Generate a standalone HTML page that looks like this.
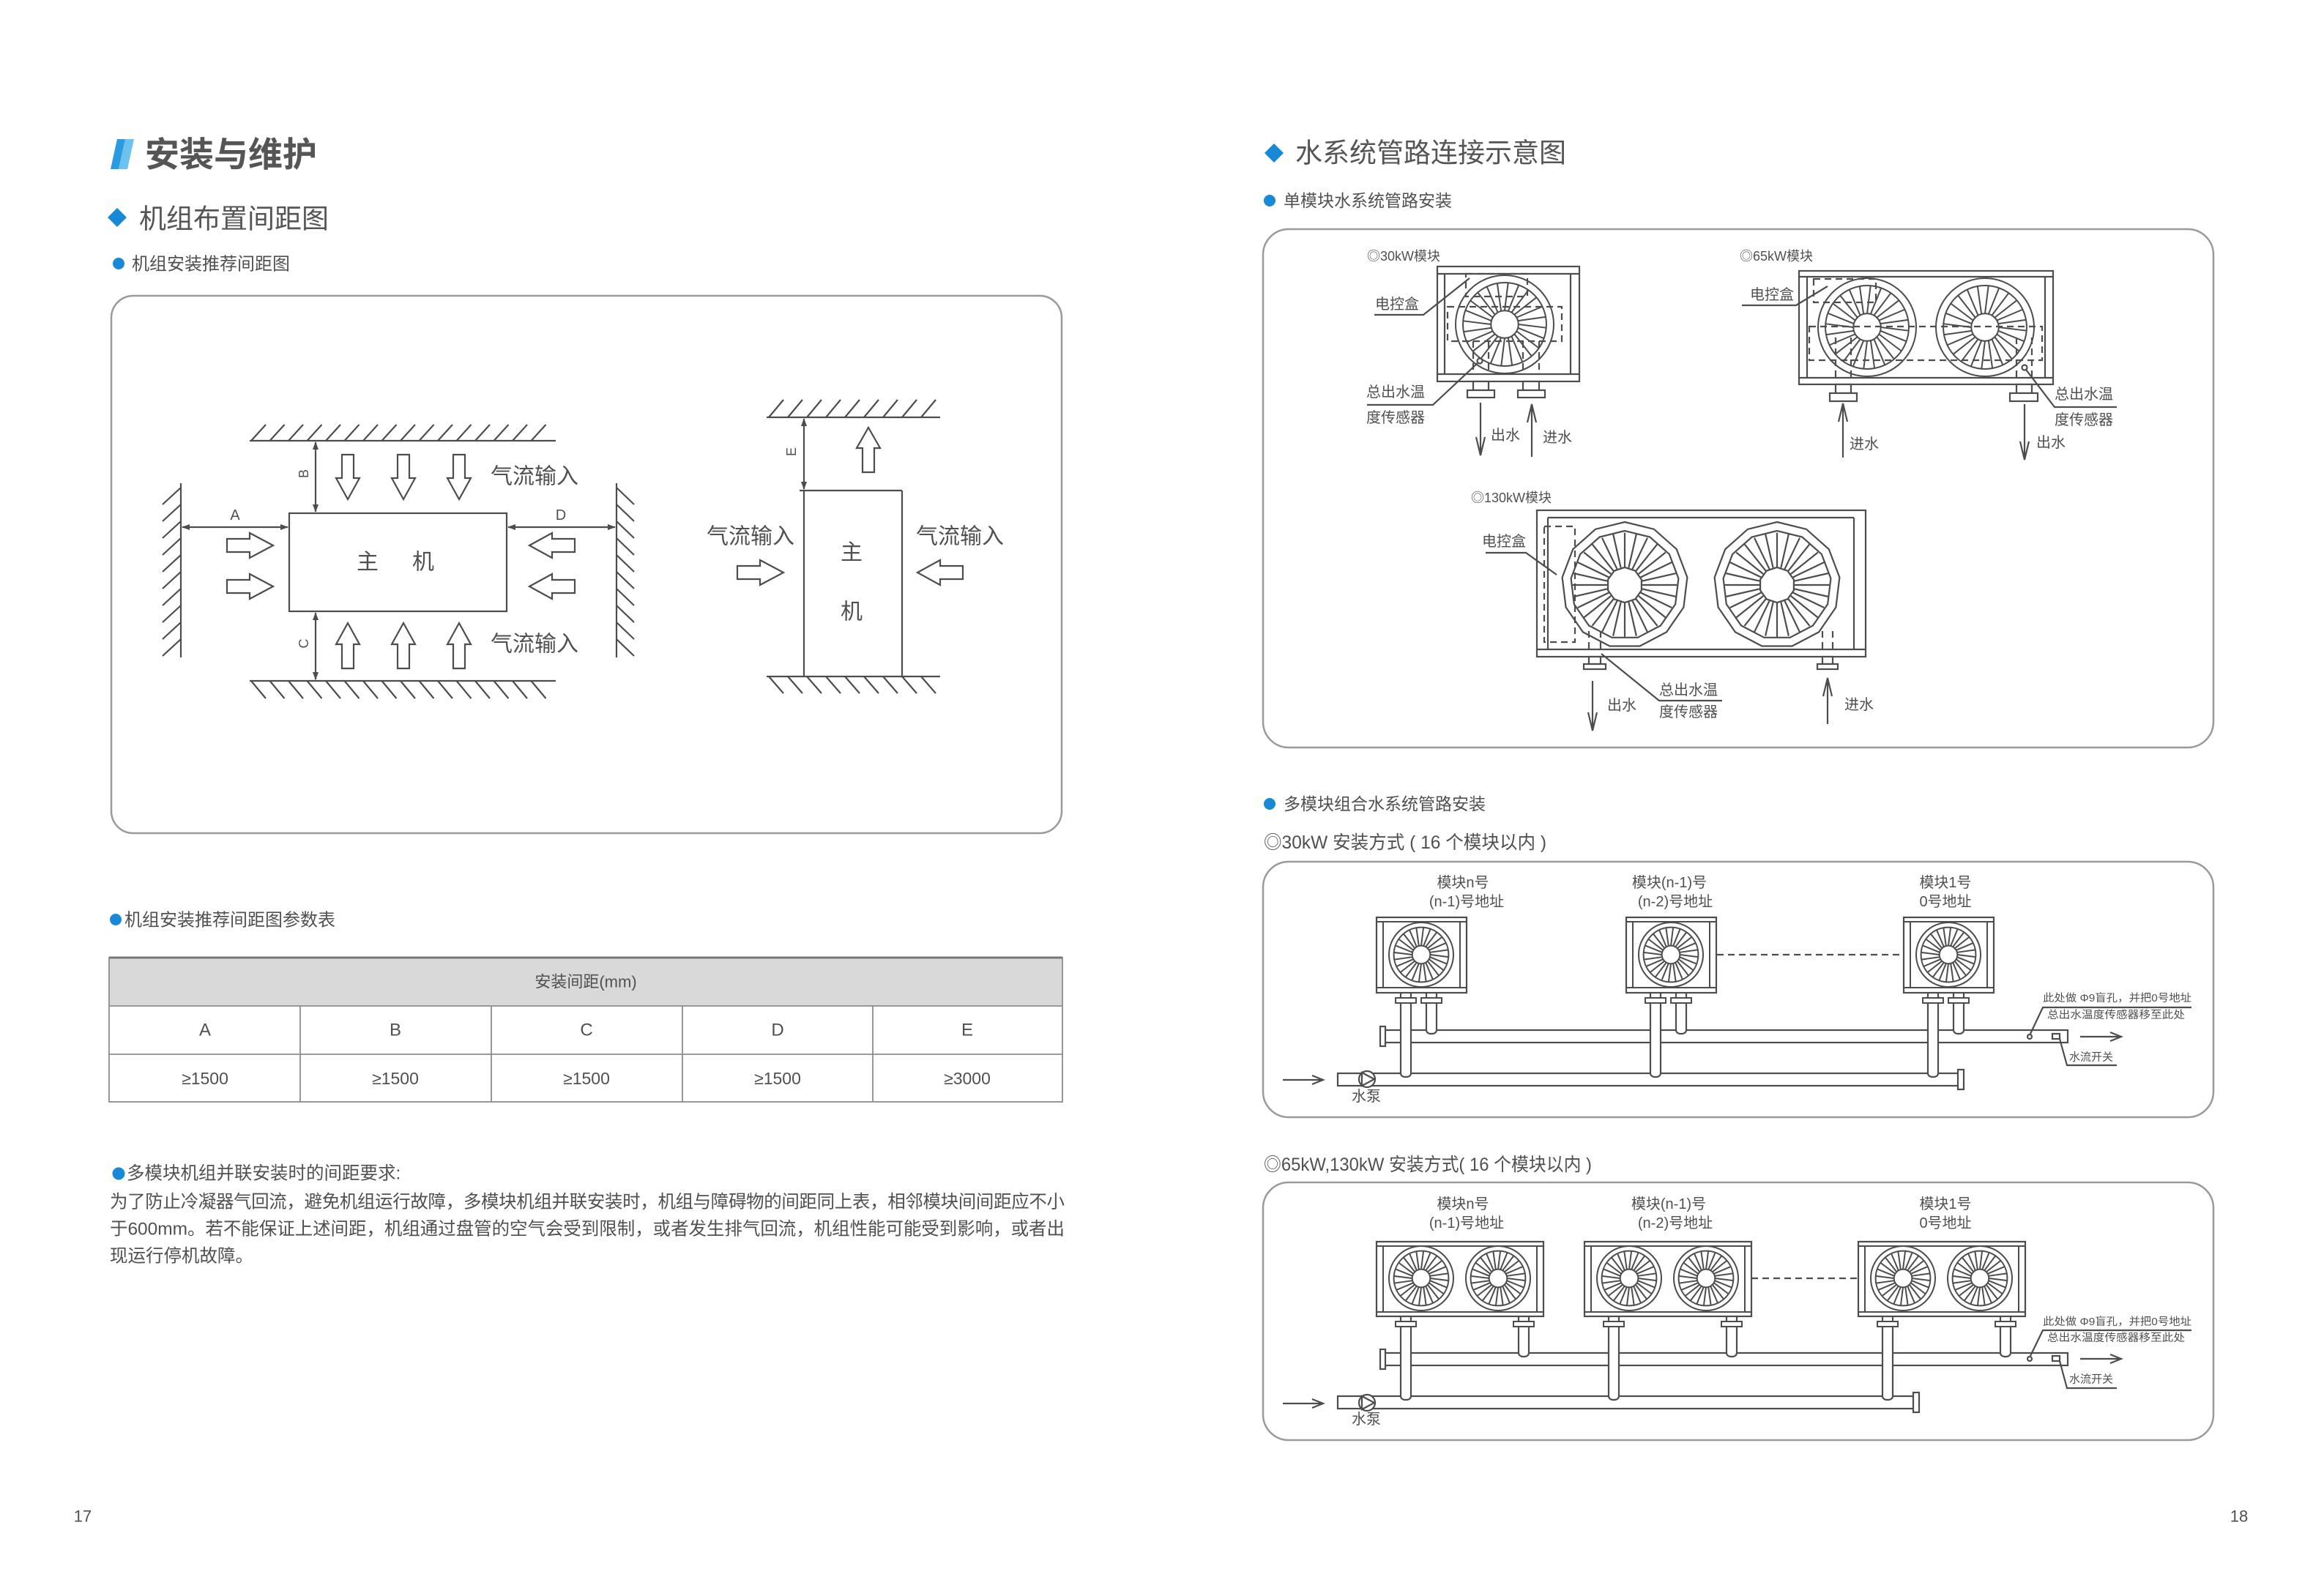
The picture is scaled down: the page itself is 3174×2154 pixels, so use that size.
<!DOCTYPE html>
<html><head><meta charset="utf-8"><style>
html,body{margin:0;padding:0;background:#fff;}
svg{display:block;}
text{font-family:"Liberation Sans","Noto Sans CJK SC",sans-serif;fill:#505050;dominant-baseline:central;}
.ln{stroke:#4d4d4d;stroke-width:2.2;fill:none;}
.lw{stroke:#4d4d4d;stroke-width:2.2;fill:#fff;}
.ds{stroke-dasharray:9 6;}
.bx{stroke:#9a9a9a;stroke-width:2.5;fill:none;}
</style></head><body>
<svg width="3174" height="2154" viewBox="0 0 3174 2154" xmlns="http://www.w3.org/2000/svg">
<defs>
<g id="fan" stroke="#4d4d4d" stroke-width="2" fill="none">
<circle r="1" vector-effect="non-scaling-stroke"/>
<circle r="0.85" vector-effect="non-scaling-stroke"/>
<circle r="0.28" fill="#fff" vector-effect="non-scaling-stroke"/>
<line x1="0" y1="-.28" x2=".07" y2="-.845" transform="rotate(0)" vector-effect="non-scaling-stroke"/>
<line x1="0" y1="-.28" x2=".07" y2="-.845" transform="rotate(15)" vector-effect="non-scaling-stroke"/>
<line x1="0" y1="-.28" x2=".07" y2="-.845" transform="rotate(30)" vector-effect="non-scaling-stroke"/>
<line x1="0" y1="-.28" x2=".07" y2="-.845" transform="rotate(45)" vector-effect="non-scaling-stroke"/>
<line x1="0" y1="-.28" x2=".07" y2="-.845" transform="rotate(60)" vector-effect="non-scaling-stroke"/>
<line x1="0" y1="-.28" x2=".07" y2="-.845" transform="rotate(75)" vector-effect="non-scaling-stroke"/>
<line x1="0" y1="-.28" x2=".07" y2="-.845" transform="rotate(90)" vector-effect="non-scaling-stroke"/>
<line x1="0" y1="-.28" x2=".07" y2="-.845" transform="rotate(105)" vector-effect="non-scaling-stroke"/>
<line x1="0" y1="-.28" x2=".07" y2="-.845" transform="rotate(120)" vector-effect="non-scaling-stroke"/>
<line x1="0" y1="-.28" x2=".07" y2="-.845" transform="rotate(135)" vector-effect="non-scaling-stroke"/>
<line x1="0" y1="-.28" x2=".07" y2="-.845" transform="rotate(150)" vector-effect="non-scaling-stroke"/>
<line x1="0" y1="-.28" x2=".07" y2="-.845" transform="rotate(165)" vector-effect="non-scaling-stroke"/>
<line x1="0" y1="-.28" x2=".07" y2="-.845" transform="rotate(180)" vector-effect="non-scaling-stroke"/>
<line x1="0" y1="-.28" x2=".07" y2="-.845" transform="rotate(195)" vector-effect="non-scaling-stroke"/>
<line x1="0" y1="-.28" x2=".07" y2="-.845" transform="rotate(210)" vector-effect="non-scaling-stroke"/>
<line x1="0" y1="-.28" x2=".07" y2="-.845" transform="rotate(225)" vector-effect="non-scaling-stroke"/>
<line x1="0" y1="-.28" x2=".07" y2="-.845" transform="rotate(240)" vector-effect="non-scaling-stroke"/>
<line x1="0" y1="-.28" x2=".07" y2="-.845" transform="rotate(255)" vector-effect="non-scaling-stroke"/>
<line x1="0" y1="-.28" x2=".07" y2="-.845" transform="rotate(270)" vector-effect="non-scaling-stroke"/>
<line x1="0" y1="-.28" x2=".07" y2="-.845" transform="rotate(285)" vector-effect="non-scaling-stroke"/>
<line x1="0" y1="-.28" x2=".07" y2="-.845" transform="rotate(300)" vector-effect="non-scaling-stroke"/>
<line x1="0" y1="-.28" x2=".07" y2="-.845" transform="rotate(315)" vector-effect="non-scaling-stroke"/>
<line x1="0" y1="-.28" x2=".07" y2="-.845" transform="rotate(330)" vector-effect="non-scaling-stroke"/>
<line x1="0" y1="-.28" x2=".07" y2="-.845" transform="rotate(345)" vector-effect="non-scaling-stroke"/>
</g>
<g id="fanp" stroke="#4d4d4d" stroke-width="2.2" fill="none">
<polygon points="0,-1 .4647,-.8855 .823,-.5681 .9927,-.1205 .935,.3546 .6631,.7485 .2393,.9709 -.2393,.9709 -.6631,.7485 -.935,.3546 -.9927,-.1205 -.823,-.5681 -.4647,-.8855" vector-effect="non-scaling-stroke"/>
<polygon points="0,-.86 .3996,-.7615 .7078,-.4886 .8537,-.1036 .8041,.305 .5703,.6437 .2058,.835 -.2058,.835 -.5703,.6437 -.8041,.305 -.8537,-.1036 -.7078,-.4886 -.3996,-.7615" vector-effect="non-scaling-stroke"/>
<polygon points="0,-.28 .1646,-.2265 .2663,-.0865 .2663,.0865 .1646,.2265 0,.28 -.1646,.2265 -.2663,.0865 -.2663,-.0865 -.1646,-.2265" vector-effect="non-scaling-stroke"/>
<line x1="0" y1="-.28" x2="0" y2="-.83" transform="rotate(0)" vector-effect="non-scaling-stroke"/>
<line x1="0" y1="-.28" x2="0" y2="-.83" transform="rotate(12.857)" vector-effect="non-scaling-stroke"/>
<line x1="0" y1="-.28" x2="0" y2="-.83" transform="rotate(25.714)" vector-effect="non-scaling-stroke"/>
<line x1="0" y1="-.28" x2="0" y2="-.83" transform="rotate(38.571)" vector-effect="non-scaling-stroke"/>
<line x1="0" y1="-.28" x2="0" y2="-.83" transform="rotate(51.429)" vector-effect="non-scaling-stroke"/>
<line x1="0" y1="-.28" x2="0" y2="-.83" transform="rotate(64.286)" vector-effect="non-scaling-stroke"/>
<line x1="0" y1="-.28" x2="0" y2="-.83" transform="rotate(77.143)" vector-effect="non-scaling-stroke"/>
<line x1="0" y1="-.28" x2="0" y2="-.83" transform="rotate(90)" vector-effect="non-scaling-stroke"/>
<line x1="0" y1="-.28" x2="0" y2="-.83" transform="rotate(102.857)" vector-effect="non-scaling-stroke"/>
<line x1="0" y1="-.28" x2="0" y2="-.83" transform="rotate(115.714)" vector-effect="non-scaling-stroke"/>
<line x1="0" y1="-.28" x2="0" y2="-.83" transform="rotate(128.571)" vector-effect="non-scaling-stroke"/>
<line x1="0" y1="-.28" x2="0" y2="-.83" transform="rotate(141.429)" vector-effect="non-scaling-stroke"/>
<line x1="0" y1="-.28" x2="0" y2="-.83" transform="rotate(154.286)" vector-effect="non-scaling-stroke"/>
<line x1="0" y1="-.28" x2="0" y2="-.83" transform="rotate(167.143)" vector-effect="non-scaling-stroke"/>
<line x1="0" y1="-.28" x2="0" y2="-.83" transform="rotate(180)" vector-effect="non-scaling-stroke"/>
<line x1="0" y1="-.28" x2="0" y2="-.83" transform="rotate(192.857)" vector-effect="non-scaling-stroke"/>
<line x1="0" y1="-.28" x2="0" y2="-.83" transform="rotate(205.714)" vector-effect="non-scaling-stroke"/>
<line x1="0" y1="-.28" x2="0" y2="-.83" transform="rotate(218.571)" vector-effect="non-scaling-stroke"/>
<line x1="0" y1="-.28" x2="0" y2="-.83" transform="rotate(231.429)" vector-effect="non-scaling-stroke"/>
<line x1="0" y1="-.28" x2="0" y2="-.83" transform="rotate(244.286)" vector-effect="non-scaling-stroke"/>
<line x1="0" y1="-.28" x2="0" y2="-.83" transform="rotate(257.143)" vector-effect="non-scaling-stroke"/>
<line x1="0" y1="-.28" x2="0" y2="-.83" transform="rotate(270)" vector-effect="non-scaling-stroke"/>
<line x1="0" y1="-.28" x2="0" y2="-.83" transform="rotate(282.857)" vector-effect="non-scaling-stroke"/>
<line x1="0" y1="-.28" x2="0" y2="-.83" transform="rotate(295.714)" vector-effect="non-scaling-stroke"/>
<line x1="0" y1="-.28" x2="0" y2="-.83" transform="rotate(308.571)" vector-effect="non-scaling-stroke"/>
<line x1="0" y1="-.28" x2="0" y2="-.83" transform="rotate(321.429)" vector-effect="non-scaling-stroke"/>
<line x1="0" y1="-.28" x2="0" y2="-.83" transform="rotate(334.286)" vector-effect="non-scaling-stroke"/>
<line x1="0" y1="-.28" x2="0" y2="-.83" transform="rotate(347.143)" vector-effect="non-scaling-stroke"/>
</g>
<g id="m30">
<rect x="0" y="0" width="123" height="103" fill="#fff" stroke="#4d4d4d" stroke-width="2.2"/>
<path d="M0 6H123M0 96H123M9 6V96M114 6V96" stroke="#4d4d4d" stroke-width="2" fill="none"/>
<use href="#fan" transform="translate(61 51) scale(44)"/>
<rect x="26" y="110" width="28" height="7" fill="#fff" stroke="#4d4d4d" stroke-width="2"/>
<rect x="61" y="110" width="28" height="7" fill="#fff" stroke="#4d4d4d" stroke-width="2"/>
</g>
<g id="m65">
<rect x="0" y="0" width="228" height="102" fill="#fff" stroke="#4d4d4d" stroke-width="2.2"/>
<path d="M0 6H228M0 96H228M9 6V96M219 6V96" stroke="#4d4d4d" stroke-width="2" fill="none"/>
<use href="#fan" transform="translate(61 50) scale(44)"/>
<use href="#fan" transform="translate(166 50) scale(44)"/>
<rect x="26" y="109" width="28" height="7" fill="#fff" stroke="#4d4d4d" stroke-width="2"/>
<rect x="187" y="109" width="28" height="7" fill="#fff" stroke="#4d4d4d" stroke-width="2"/>
</g>
</defs>

<rect x="0" y="0" width="3174" height="2154" fill="#fff"/>

<!-- ================= LEFT PAGE ================= -->
<polygon points="160,190 171,190 162,231 151,231" fill="#2a9be0"/>
<polygon points="171,190 183,190 174,231 162,231" fill="#6cc1ee"/>
<text x="198" y="211" font-size="47" font-weight="700" style="fill:#555">安装与维护</text>
<polygon points="160,284 173,297 160,310 147,297" fill="#1789d6"/>
<text x="190" y="299" font-size="37" style="fill:#555">机组布置间距图</text>
<circle cx="162" cy="360" r="8" fill="#1789d6"/>
<text x="180" y="361" font-size="24">机组安装推荐间距图</text>

<rect x="152" y="404" width="1298" height="734" rx="30" class="bx"/>

<!-- left diagram walls -->
<path class="ln" d="M341 602H759M341 930H759M247 660V898M842 660V898"/>
<path class="ln" stroke-width="1.8" d="M343 602l20-22M368.5 602l20-22M394 602l20-22M419.5 602l20-22M445 602l20-22M470.5 602l20-22M496 602l20-22M521.5 602l20-22M547 602l20-22M572.5 602l20-22M598 602l20-22M623.5 602l20-22M649 602l20-22M674.5 602l20-22M700 602l20-22M725.5 602l20-22"/>
<path class="ln" stroke-width="1.8" d="M343 930l20 24M368.5 930l20 24M394 930l20 24M419.5 930l20 24M445 930l20 24M470.5 930l20 24M496 930l20 24M521.5 930l20 24M547 930l20 24M572.5 930l20 24M598 930l20 24M623.5 930l20 24M649 930l20 24M674.5 930l20 24M700 930l20 24M725.5 930l20 24"/>
<path class="ln" stroke-width="1.8" d="M247 666l-25 23M247 689l-25 23M247 712l-25 23M247 735l-25 23M247 758l-25 23M247 781l-25 23M247 804l-25 23M247 827l-25 23M247 850l-25 23M247 873l-25 23"/>
<path class="ln" stroke-width="1.8" d="M842 666l24 23M842 689l24 23M842 712l24 23M842 735l24 23M842 758l24 23M842 781l24 23M842 804l24 23M842 827l24 23M842 850l24 23M842 873l24 23"/>
<rect x="395" y="701" width="297" height="134" class="ln" stroke-width="2.6"/>
<text x="502" y="768" font-size="30" text-anchor="middle">主</text>
<text x="578" y="768" font-size="30" text-anchor="middle">机</text>
<!-- dims -->
<path class="ln" stroke-width="1.6" d="M431 604V699M431 837V928M249 720H393M694 720H840"/>
<g fill="#4d4d4d">
<polygon points="431,603 427,614 435,614"/><polygon points="431,700 427,689 435,689"/>
<polygon points="431,836 427,847 435,847"/><polygon points="431,929 427,918 435,918"/>
<polygon points="248,720 259,716 259,724"/><polygon points="394,720 383,716 383,724"/>
<polygon points="693,720 704,716 704,724"/><polygon points="841,720 830,716 830,724"/>
</g>
<text x="321" y="704" font-size="20" text-anchor="middle">A</text>
<text x="766" y="704" font-size="20" text-anchor="middle">D</text>
<text transform="translate(415 647) rotate(-90)" font-size="18" text-anchor="middle">B</text>
<text transform="translate(415 879) rotate(-90)" font-size="18" text-anchor="middle">C</text>
<!-- block arrows -->
<g class="lw" stroke-width="2">
<polygon points="467,621 483,621 483,653 491,653 475,682 459,653 467,653"/>
<polygon points="543,621 559,621 559,653 567,653 551,682 535,653 543,653"/>
<polygon points="619,621 635,621 635,653 643,653 627,682 611,653 619,653"/>
<polygon points="475,851 491,880 483,880 483,913 467,913 467,880 459,880"/>
<polygon points="551,851 567,880 559,880 559,913 543,913 543,880 535,880"/>
<polygon points="627,851 643,880 635,880 635,913 619,913 619,880 611,880"/>
<polygon points="310,736 341,736 341,728 373,745 341,762 341,754 310,754"/>
<polygon points="310,792 341,792 341,784 373,801 341,818 341,810 310,810"/>
<polygon points="723,745 754,728 754,736 785,736 785,754 754,754 754,762"/>
<polygon points="723,801 754,784 754,792 785,792 785,810 754,810 754,818"/>
</g>
<text x="670" y="651" font-size="30" textLength="120" lengthAdjust="spacingAndGlyphs">气流输入</text>
<text x="670" y="880" font-size="30" textLength="120" lengthAdjust="spacingAndGlyphs">气流输入</text>

<!-- right small diagram -->
<path class="ln" d="M1047 570H1284M1047 924H1284M1098 670V924M1232 670V924M1092 670H1232"/>
<path class="ln" stroke-width="1.8" d="M1050 570l20-24M1076 570l20-24M1102 570l20-24M1128 570l20-24M1154 570l20-24M1180 570l20-24M1206 570l20-24M1232 570l20-24M1258 570l20-24"/>
<path class="ln" stroke-width="1.8" d="M1050 924l20 23M1076 924l20 23M1102 924l20 23M1128 924l20 23M1154 924l20 23M1180 924l20 23M1206 924l20 23M1232 924l20 23M1258 924l20 23"/>
<path class="ln" stroke-width="1.6" d="M1098 572V668"/>
<g fill="#4d4d4d"><polygon points="1098,571 1094,582 1102,582"/><polygon points="1098,669 1094,658 1102,658"/></g>
<text transform="translate(1081 617) rotate(-90)" font-size="18" text-anchor="middle">E</text>
<g class="lw" stroke-width="2">
<polygon points="1186,584 1202,612 1194,612 1194,645 1178,645 1178,612 1170,612"/>
<polygon points="1007,773 1038,773 1038,765 1070,782 1038,799 1038,791 1007,791"/>
<polygon points="1253,782 1284,765 1284,773 1315,773 1315,791 1284,791 1284,799"/>
</g>
<text x="1163" y="755" font-size="30" text-anchor="middle">主</text>
<text x="1163" y="836" font-size="30" text-anchor="middle">机</text>
<text x="965" y="733" font-size="30" textLength="120" lengthAdjust="spacingAndGlyphs">气流输入</text>
<text x="1251" y="733" font-size="30" textLength="120" lengthAdjust="spacingAndGlyphs">气流输入</text>

<!-- table -->
<circle cx="158" cy="1256" r="8" fill="#1789d6"/>
<text x="170" y="1257" font-size="24">机组安装推荐间距图参数表</text>
<rect x="149" y="1308" width="1302" height="66" fill="#d9d9d9"/>
<rect x="149" y="1308" width="1302" height="197" fill="none" stroke="#8c8c8c" stroke-width="1.8"/>
<path d="M149 1308H1451" stroke="#777" stroke-width="3"/>
<path d="M149 1374H1451M149 1440H1451M410 1374V1505M671 1374V1505M932 1374V1505M1192 1374V1505" stroke="#8c8c8c" stroke-width="1.8" fill="none"/>
<text x="800" y="1341" font-size="22" text-anchor="middle">安装间距(mm)</text>
<text x="280" y="1407" font-size="24" text-anchor="middle">A</text>
<text x="540" y="1407" font-size="24" text-anchor="middle">B</text>
<text x="801" y="1407" font-size="24" text-anchor="middle">C</text>
<text x="1062" y="1407" font-size="24" text-anchor="middle">D</text>
<text x="1321" y="1407" font-size="24" text-anchor="middle">E</text>
<text x="280" y="1473" font-size="23" text-anchor="middle">≥1500</text>
<text x="540" y="1473" font-size="23" text-anchor="middle">≥1500</text>
<text x="801" y="1473" font-size="23" text-anchor="middle">≥1500</text>
<text x="1062" y="1473" font-size="23" text-anchor="middle">≥1500</text>
<text x="1321" y="1473" font-size="23" text-anchor="middle">≥3000</text>

<!-- paragraph -->
<circle cx="162" cy="1603" r="8.5" fill="#1789d6"/>
<text x="173" y="1603" font-size="24.5">多模块机组并联安装时的间距要求:</text>
<text x="150" y="1642" font-size="24.5" textLength="1304" lengthAdjust="spacing">为了防止冷凝器气回流，避免机组运行故障，多模块机组并联安装时，机组与障碍物的间距同上表，相邻模块间间距应不小</text>
<text x="150" y="1679" font-size="24.5" textLength="1304" lengthAdjust="spacing">于600mm。若不能保证上述间距，机组通过盘管的空气会受到限制，或者发生排气回流，机组性能可能受到影响，或者出</text>
<text x="150" y="1716" font-size="24.5">现运行停机故障。</text>

<text x="113" y="2071" font-size="22" text-anchor="middle">17</text>

<!-- ================= RIGHT PAGE ================= -->
<polygon points="1740,196 1753,209 1740,222 1727,209" fill="#1789d6"/>
<text x="1769" y="209" font-size="37" style="fill:#555">水系统管路连接示意图</text>
<circle cx="1734" cy="274" r="8" fill="#1789d6"/>
<text x="1753" y="274" font-size="23">单模块水系统管路安装</text>

<rect x="1725" y="313" width="1298" height="708" rx="35" class="bx"/>

<!-- 30kW single -->
<text x="1867" y="350" font-size="18">◎30kW模块</text>
<rect x="1963" y="364" width="194" height="157" class="lw"/>
<path class="ln" d="M1963 374H2157M1963 511H2157M1973 374V511M2145 374V511"/>
<use href="#fan" transform="translate(2055 443) scale(67)"/>
<rect x="2002" y="374" width="84" height="31" class="ln ds" stroke-width="2"/>
<rect x="1977" y="419" width="156" height="47" class="ln ds" stroke-width="2"/>
<path class="ln ds" stroke-width="2" d="M2012 466V511M2033 466V511M2080 466V511M2102 466V511"/>
<rect x="2012" y="521" width="21" height="12" class="lw" stroke-width="2"/>
<rect x="2004" y="533" width="37" height="10" class="lw" stroke-width="2"/>
<rect x="2080" y="521" width="22" height="12" class="lw" stroke-width="2"/>
<rect x="2073" y="533" width="37" height="10" class="lw" stroke-width="2"/>
<path class="ln" stroke-width="1.8" d="M2022 550V622M2016 597L2022 622L2028 597M2092 624V552M2086 577L2092 552L2098 577"/>
<text x="2036" y="595" font-size="20">出水</text>
<text x="2107" y="598" font-size="20">进水</text>
<text x="1878" y="416" font-size="20">电控盒</text>
<path class="ln" stroke-width="1.8" d="M1877 430H1944L2007 380"/>
<text x="1866" y="536" font-size="20">总出水温</text>
<text x="1866" y="571" font-size="20">度传感器</text>
<path class="ln" stroke-width="1.8" d="M1867 553H1957L2019 495"/>
<circle cx="2021" cy="493" r="3.5" class="lw" stroke-width="1.8"/>

<!-- 65kW single -->
<text x="2376" y="350" font-size="18">◎65kW模块</text>
<rect x="2457" y="370" width="347" height="155" class="lw"/>
<path class="ln" d="M2457 378H2804M2457 516H2804M2468 378V516M2793 378V516"/>
<use href="#fan" transform="translate(2550 447) scale(67)"/>
<use href="#fan" transform="translate(2711 447) scale(67)"/>
<rect x="2477" y="381" width="85" height="32" class="ln ds" stroke-width="2"/>
<rect x="2471" y="446" width="318" height="46" class="ln ds" stroke-width="2"/>
<path class="ln ds" stroke-width="2" d="M2507 461V516M2528 461V516M2754 461V516M2775 461V516"/>
<rect x="2507" y="525" width="21" height="12" class="lw" stroke-width="2"/>
<rect x="2499" y="537" width="37" height="11" class="lw" stroke-width="2"/>
<rect x="2754" y="525" width="21" height="12" class="lw" stroke-width="2"/>
<rect x="2745" y="537" width="38" height="11" class="lw" stroke-width="2"/>
<path class="ln" stroke-width="1.8" d="M2517 625V551M2511 576L2517 551L2523 576M2765 552V628M2759 603L2765 628L2771 603"/>
<text x="2526" y="607" font-size="20">进水</text>
<text x="2781" y="605" font-size="20">出水</text>
<circle cx="2765" cy="502" r="3.5" class="lw" stroke-width="1.8"/>
<path class="ln" stroke-width="1.8" d="M2767 505L2806 556H2891"/>
<text x="2806" y="539" font-size="20">总出水温</text>
<text x="2806" y="574" font-size="20">度传感器</text>
<text x="2390" y="403" font-size="20">电控盒</text>
<path class="ln" stroke-width="1.8" d="M2379 417H2453L2496 391"/>

<!-- 130kW single -->
<text x="2009" y="680" font-size="18">◎130kW模块</text>
<rect x="2099" y="697" width="449" height="200" class="lw"/>
<path class="ln" d="M2114 707H2532M2114 707V887M2532 707V887M2099 887H2548"/>
<use href="#fanp" transform="translate(2219 799) scale(86)"/>
<use href="#fanp" transform="translate(2427 799) scale(86)"/>
<rect x="2109" y="719" width="42" height="158" class="ln ds" stroke-width="2"/>
<path class="ln ds" stroke-width="2" d="M2170 862V887M2186 862V887M2489 862V887M2503 862V887"/>
<rect x="2170" y="897" width="16" height="10" class="lw" stroke-width="2"/>
<rect x="2163" y="907" width="30" height="7" class="lw" stroke-width="2"/>
<rect x="2489" y="897" width="14" height="10" class="lw" stroke-width="2"/>
<rect x="2482" y="907" width="28" height="7" class="lw" stroke-width="2"/>
<path class="ln" stroke-width="1.8" d="M2175 930V998M2169 973L2175 998L2181 973M2496 989V926M2490 951L2496 926L2502 951"/>
<path class="ln" stroke-width="1.8" d="M2187 893L2266 957H2352"/>
<text x="2195" y="964" font-size="20">出水</text>
<text x="2266" y="943" font-size="20">总出水温</text>
<text x="2266" y="973" font-size="20">度传感器</text>
<text x="2519" y="963" font-size="20">进水</text>
<text x="2024" y="740" font-size="20">电控盒</text>
<path class="ln" stroke-width="1.8" d="M2029 755H2084L2126 785"/>

<!-- multi module section -->
<circle cx="1734" cy="1098" r="8" fill="#1789d6"/>
<text x="1753" y="1098" font-size="23">多模块组合水系统管路安装</text>
<text x="1726" y="1151" font-size="25" textLength="386" lengthAdjust="spacingAndGlyphs">◎30kW 安装方式 ( 16 个模块以内 )</text>

<rect x="1725" y="1177" width="1298" height="349" rx="35" class="bx"/>

<!-- box2 pipes -->
<rect x="1889" y="1407" width="935" height="17" class="lw" stroke-width="2"/>
<rect x="1885" y="1402" width="7" height="27" class="lw" stroke-width="2"/>
<rect x="1827" y="1466" width="849" height="17" class="lw" stroke-width="2"/>
<rect x="2674" y="1461" width="8" height="27" class="lw" stroke-width="2"/>
<g class="lw" stroke-width="2">
<rect x="1913" y="1350" width="14" height="121" rx="6" ry="5"/>
<rect x="1948" y="1350" width="14" height="62" rx="6" ry="5"/>
<rect x="2254" y="1350" width="14" height="121" rx="6" ry="5"/>
<rect x="2289" y="1350" width="14" height="62" rx="6" ry="5"/>
<rect x="2633" y="1350" width="14" height="121" rx="6" ry="5"/>
<rect x="2668" y="1350" width="14" height="62" rx="6" ry="5"/>
</g>
<use href="#m30" x="1880" y="1253"/>
<use href="#m30" x="2221" y="1253"/>
<use href="#m30" x="2600" y="1253"/>
<path class="ln ds" stroke-width="2" d="M2345 1304H2600"/>
<circle cx="1867" cy="1474" r="11" class="lw" stroke-width="2"/>
<path class="ln" stroke-width="1.8" d="M1860 1465L1877 1474L1860 1483Z"/>
<path class="ln" stroke-width="1.8" d="M1752 1475H1806M1792 1469L1807 1475L1792 1481"/>
<text x="1846" y="1498" font-size="20">水泵</text>
<text x="1998" y="1206" font-size="20" text-anchor="middle">模块n号</text>
<text x="2003" y="1232" font-size="20" text-anchor="middle">(n-1)号地址</text>
<text x="2280" y="1206" font-size="20" text-anchor="middle">模块(n-1)号</text>
<text x="2288" y="1232" font-size="20" text-anchor="middle">(n-2)号地址</text>
<text x="2657" y="1206" font-size="20" text-anchor="middle">模块1号</text>
<text x="2657" y="1232" font-size="20" text-anchor="middle">0号地址</text>
<circle cx="2772" cy="1416" r="3" class="lw" stroke-width="1.6"/>
<path class="ln" stroke-width="1.6" d="M2773 1412L2790 1376H2993"/>
<text x="2790" y="1364" font-size="14.5" textLength="203" lengthAdjust="spacingAndGlyphs">此处做 Φ9盲孔，并把0号地址</text>
<text x="2796" y="1387" font-size="14.5" textLength="188" lengthAdjust="spacingAndGlyphs">总出水温度传感器移至此处</text>
<rect x="2803" y="1412" width="10" height="7" class="lw" stroke-width="1.6"/>
<path class="ln" stroke-width="1.6" d="M2813 1419L2823 1455H2891"/>
<text x="2826" y="1444" font-size="15">水流开关</text>
<path class="ln" stroke-width="1.8" d="M2841 1416H2896M2882 1410L2897 1416L2882 1422"/>

<!-- box3 -->
<text x="1726" y="1591" font-size="25" textLength="448" lengthAdjust="spacingAndGlyphs">◎65kW,130kW 安装方式( 16 个模块以内 )</text>
<rect x="1725" y="1615" width="1298" height="352" rx="35" class="bx"/>
<rect x="1889" y="1848" width="935" height="17" class="lw" stroke-width="2"/>
<rect x="1885" y="1843" width="7" height="27" class="lw" stroke-width="2"/>
<rect x="1827" y="1907" width="788" height="17" class="lw" stroke-width="2"/>
<rect x="2613" y="1902" width="8" height="27" class="lw" stroke-width="2"/>
<g class="lw" stroke-width="2">
<rect x="1913" y="1792" width="14" height="120" rx="6" ry="5"/>
<rect x="2074" y="1792" width="14" height="61" rx="6" ry="5"/>
<rect x="2197" y="1792" width="14" height="120" rx="6" ry="5"/>
<rect x="2358" y="1792" width="14" height="61" rx="6" ry="5"/>
<rect x="2571" y="1792" width="14" height="120" rx="6" ry="5"/>
<rect x="2732" y="1792" width="14" height="61" rx="6" ry="5"/>
</g>
<use href="#m65" x="1880" y="1696"/>
<use href="#m65" x="2164" y="1696"/>
<use href="#m65" x="2538" y="1696"/>
<path class="ln ds" stroke-width="2" d="M2392 1746H2538"/>
<circle cx="1867" cy="1916" r="11" class="lw" stroke-width="2"/>
<path class="ln" stroke-width="1.8" d="M1860 1907L1877 1916L1860 1925Z"/>
<path class="ln" stroke-width="1.8" d="M1752 1917H1806M1792 1911L1807 1917L1792 1923"/>
<text x="1846" y="1939" font-size="20">水泵</text>
<text x="1998" y="1645" font-size="20" text-anchor="middle">模块n号</text>
<text x="2003" y="1671" font-size="20" text-anchor="middle">(n-1)号地址</text>
<text x="2279" y="1645" font-size="20" text-anchor="middle">模块(n-1)号</text>
<text x="2288" y="1671" font-size="20" text-anchor="middle">(n-2)号地址</text>
<text x="2657" y="1645" font-size="20" text-anchor="middle">模块1号</text>
<text x="2657" y="1671" font-size="20" text-anchor="middle">0号地址</text>
<circle cx="2772" cy="1856" r="3" class="lw" stroke-width="1.6"/>
<path class="ln" stroke-width="1.6" d="M2773 1852L2790 1817H2993"/>
<text x="2790" y="1806" font-size="14.5" textLength="203" lengthAdjust="spacingAndGlyphs">此处做 Φ9盲孔，并把0号地址</text>
<text x="2796" y="1828" font-size="14.5" textLength="188" lengthAdjust="spacingAndGlyphs">总出水温度传感器移至此处</text>
<rect x="2803" y="1852" width="10" height="7" class="lw" stroke-width="1.6"/>
<path class="ln" stroke-width="1.6" d="M2813 1859L2823 1896H2891"/>
<text x="2826" y="1884" font-size="15">水流开关</text>
<path class="ln" stroke-width="1.8" d="M2841 1856H2896M2882 1850L2897 1856L2882 1862"/>

<text x="3058" y="2071" font-size="22" text-anchor="middle">18</text>
</svg>
</body></html>
